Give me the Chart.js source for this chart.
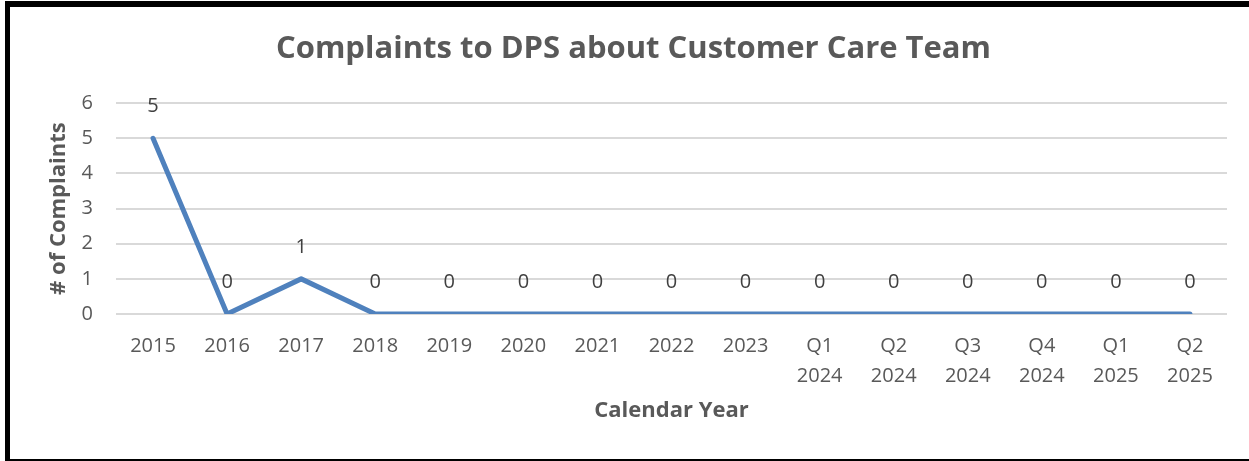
<!DOCTYPE html>
<html>
<head>
<meta charset="utf-8">
<script src="https://cdn.jsdelivr.net/npm/chart.js@4"></script>
<style>
  html, body { margin: 0; padding: 0; background: #fff; overflow: hidden; }
  #wrap { position: absolute; left: 0; top: 0; width: 1249px; height: 461px; }
  #frame {
    position: absolute; left: 5px; top: 1px; right: -10px; bottom: -4px;
    border-style: solid; border-color: #000; border-width: 6px 6px 6px 5px;
    pointer-events: none;
  }
</style>
</head>
<body>
<div id="wrap">
  <canvas id="myChart"></canvas>
  <div id="frame"></div>
</div>
<script>
// chart data
const categories = [
  '2015', '2016', '2017', '2018', '2019', '2020', '2021', '2022', '2023',
  ['Q1', '2024'], ['Q2', '2024'], ['Q3', '2024'], ['Q4', '2024'],
  ['Q1', '2025'], ['Q2', '2025']
];
const complaints = [5, 0, 1, 0, 0, 0, 0, 0, 0, 0, 0, 0, 0, 0, 0];
const yTicks = [0, 1, 2, 3, 4, 5, 6];

const grey = '#595959';

// draws the value above each point (no datalabels plugin offline)
const valueLabels = {
  id: 'valueLabels',
  afterDatasetsDraw(chart) {
    const c = chart.ctx;
    const meta = chart.getDatasetMeta(0);
    c.save();
    c.font = '20px "Open Sans"';
    c.fillStyle = '#404040';
    c.textAlign = 'center';
    c.textBaseline = 'middle';
    meta.data.forEach((pt, i) => {
      c.fillText(String(complaints[i]), pt.x, pt.y - 32);
    });
    c.restore();
  }
};

const ctx = document.getElementById('myChart');

new Chart(ctx, {
  type: 'line',
  data: {
    labels: categories,
    datasets: [{
      label: '# of Complaints',
      data: complaints,
      borderColor: '#4F81BD',
      borderWidth: 5,
      borderCapStyle: 'round',
      borderJoinStyle: 'round',
      pointRadius: 0,
      tension: 0,
      fill: false
    }]
  },
  plugins: [valueLabels],
  options: {
    responsive: true,
    maintainAspectRatio: false,
    animation: false,
    layout: {
      padding: { left: 40, right: 22, top: 0, bottom: 33 }
    },
    plugins: {
      legend: { display: false },
      tooltip: { enabled: false },
      title: {
        display: true,
        text: 'Complaints to DPS about Customer Care Team',
        color: grey,
        font: { family: 'Open Sans', size: 31, weight: 'bold', lineHeight: 1.2 },
        padding: { top: 31, bottom: 35 }
      }
    },
    scales: {
      x: {
        offset: true,
        afterFit: scale => { scale.height = 114; },
        grid: { display: false, drawTicks: false },
        border: { display: false },
        ticks: {
          color: grey,
          padding: 18,
          maxRotation: 0,
          autoSkip: false,
          font: { family: 'Open Sans', size: 20, lineHeight: 1.475 }
        },
        title: {
          display: true,
          text: 'Calendar Year',
          color: grey,
          font: { family: 'Open Sans', size: 22, weight: 'bold', lineHeight: 1.2 },
          padding: { top: 12, bottom: 4 }
        }
      },
      y: {
        min: 0,
        max: 6,
        afterBuildTicks: scale => {
          scale.ticks = yTicks.map(v => ({ value: v }));
        },
        afterFit: scale => { scale.width = 76; },
        grid: { color: '#D9D9D9', lineWidth: 2, drawTicks: false },
        border: { display: false },
        ticks: {
          color: grey,
          padding: 23,
          font: { family: 'Open Sans', size: 20 }
        },
        title: {
          display: true,
          text: '# of Complaints',
          color: grey,
          font: { family: 'Open Sans', size: 22, weight: 'bold', lineHeight: 1.2 },
          padding: { top: 6, bottom: 4 }
        }
      }
    }
  }
});
</script>
</body>
</html>
